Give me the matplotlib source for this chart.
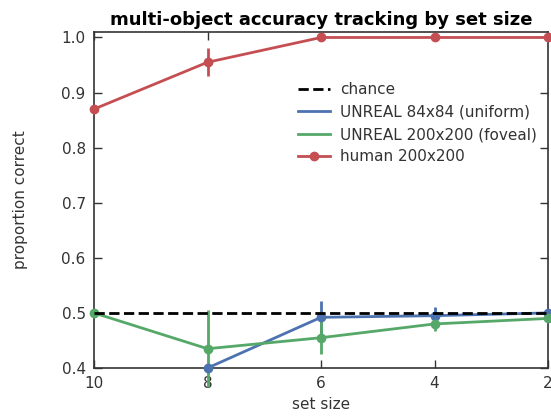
import matplotlib
matplotlib.use("Agg")
import matplotlib.pyplot as plt
import numpy as np

set_sizes = [10, 8, 6, 4, 2]
chance = 0.5

human = [0.87, 0.955, 1.0, 1.0, 1.0]
human_err = [0.0, 0.025, 0.0, 0.0, 0.0]

unreal84_sizes = [8, 6, 4, 2]
unreal84 = [0.40, 0.492, 0.495, 0.50]
unreal84_err = [0.0, 0.03, 0.015, 0.005]

unreal200 = [0.50, 0.435, 0.455, 0.48, 0.49]
unreal200_err = [0.0, 0.07, 0.03, 0.012, 0.005]

blue = "#4C72B0"
green = "#55A868"
red = "#C44E52"
dark = "#333333"

plt.rcParams["font.family"] = "DejaVu Sans"
fig = plt.figure(figsize=(5.51, 4.19), dpi=100)
ax = fig.add_axes([0.1706, 0.1217, 0.824, 0.802])

ax.plot([10, 2], [chance, chance], "--", color="black", lw=2, label="chance", zorder=4)

ax.errorbar(unreal84_sizes, unreal84, yerr=unreal84_err, color=blue, lw=2,
            marker="o", ms=6, mec=blue, zorder=3, clip_on=False)
ax.plot([], [], color=blue, lw=2, label="UNREAL 84x84 (uniform)")

ax.errorbar(set_sizes, unreal200, yerr=unreal200_err, color=green, lw=2,
            marker="o", ms=6, mec=green, zorder=3, clip_on=False)
ax.plot([], [], color=green, lw=2, label="UNREAL 200x200 (foveal)")

ax.errorbar(set_sizes, human, yerr=human_err, color=red, lw=2,
            marker="o", ms=6, mec=red, zorder=3, clip_on=False)
ax.plot([], [], color=red, lw=2, marker="o", ms=6, label="human 200x200")

ax.set_xlim(10, 2)
ax.set_ylim(0.4, 1.01)
ax.set_xticks(set_sizes)
ax.set_yticks([0.4, 0.5, 0.6, 0.7, 0.8, 0.9, 1.0])
ax.tick_params(direction="in", top=True, right=True, length=6, width=1,
               labelsize=11, colors=dark, pad=6)
for s in ax.spines.values():
    s.set_color(dark)
    s.set_linewidth(1.2)

ax.set_xlabel("set size", fontsize=11, color=dark)
ax.set_ylabel("proportion correct", fontsize=11, color=dark, labelpad=24)
ax.set_title("multi-object accuracy tracking by set size", fontsize=13,
             fontweight="bold", pad=5)

leg = ax.legend(loc="upper left", bbox_to_anchor=(0.449, 0.85), frameon=False,
                fontsize=11, handlelength=2.1, handletextpad=0.65,
                labelspacing=0.48, borderpad=0, borderaxespad=0,
                labelcolor=dark)

fig.savefig("out.png", dpi=100)
